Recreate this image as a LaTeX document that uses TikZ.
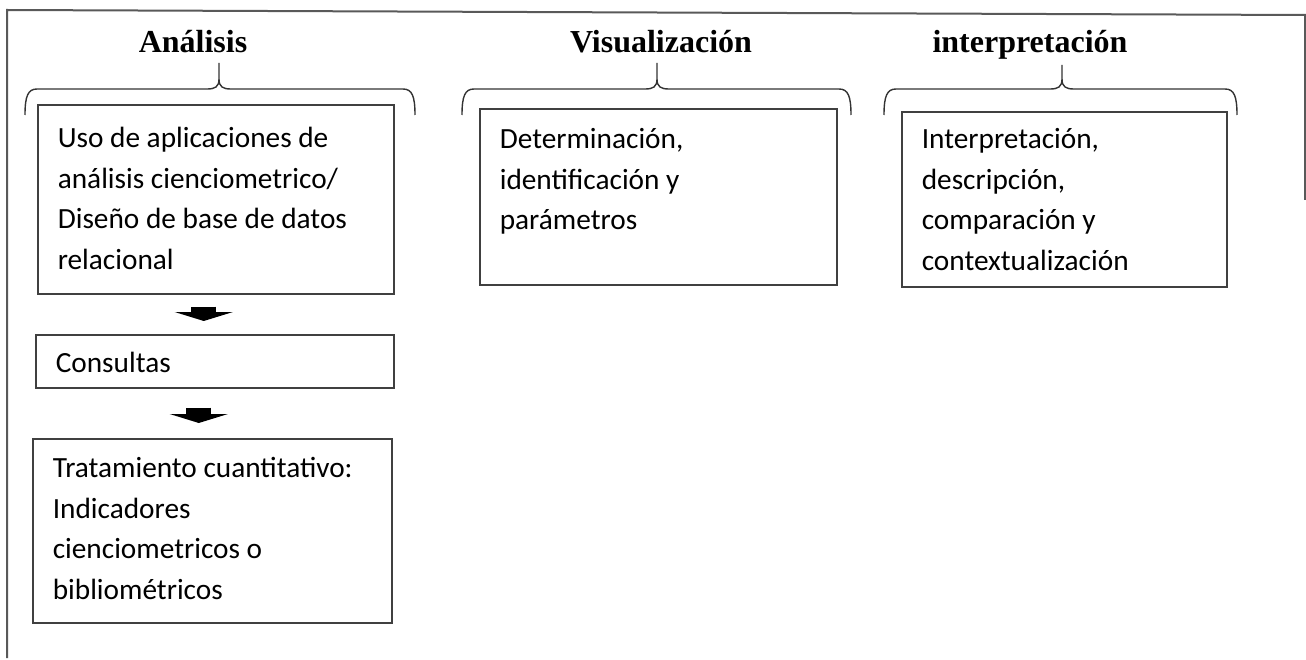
\documentclass[tikz,border=0pt]{standalone}
\usepackage{fontspec}
\setmainfont{Carlito}
\newfontfamily\titulofont{Liberation Serif}
\usetikzlibrary{arrows.meta,calc}

\begin{document}
\begin{tikzpicture}[x=1pt,y=-1pt,
  titulo/.style={anchor=base,font=\titulofont\bfseries\fontsize{32}{38}\selectfont},
  caja/.style={draw=black!75,line width=1.6pt,anchor=north west,align=flush left,inner xsep=20pt,inner ysep=0pt,font=\fontsize{29.3}{40.5}\selectfont},
  llave/.style={draw=black!80,line width=1.4pt},
  marco/.style={draw=black!65,line width=2pt},
  flecha/.style={line width=25pt,-{Triangle[length=9pt,width=58pt]}}]
\useasboundingbox (0,0) rectangle (1306,660);
% marco
\draw[marco] (7,658) -- (7,10) -- (1305,15) -- (1305,200);
% titulos
\node[titulo] (analisis) at (193,53) {Análisis};
\node[titulo] (visual) at (661,53) {Visualización};
\node[titulo] (interp) at (1030,53) {interpretación};
% llaves
\draw[llave] (25,115) .. controls (25,96) and (28,89) .. (37,89) -- (207,89)
  .. controls (215,89) and (219,87) .. (219,79) -- (219,63)
  (219,79) .. controls (219,87) and (223,89) .. (231,89) -- (403,89)
  .. controls (412,89) and (415,96) .. (415,115);
\draw[llave] (462,115) .. controls (462,96) and (465,89) .. (474,89) -- (645,89)
  .. controls (653,89) and (657,87) .. (657,79) -- (657,63)
  (657,79) .. controls (657,87) and (661,89) .. (669,89) -- (839,89)
  .. controls (848,89) and (851,96) .. (851,115);
\draw[llave] (884,115) .. controls (884,96) and (887,89) .. (896,89) -- (1050,89)
  .. controls (1058,89) and (1062,87) .. (1062,79) -- (1062,65)
  (1062,79) .. controls (1062,87) and (1066,89) .. (1074,89) -- (1225,89)
  .. controls (1234,89) and (1237,96) .. (1237,115);
% cajas
\node[caja,text width=316pt,text height=43pt,text depth=146pt] (uso) at (37,104)
  {Uso de aplicaciones de\\ análisis cienciometrico/\\ Diseño de base de datos\\ relacional};
\node[caja,text width=318pt,text height=38pt,text depth=15pt] (consultas) at (35,334)
  {Consultas};
\node[caja,text width=319pt,text height=39pt,text depth=145pt] (tratamiento) at (32,438)
  {Tratamiento cuantitativo:\\ Indicadores\\ cienciometricos o\\ bibliométricos};
\node[caja,text width=317pt,text height=40pt,text depth=136pt] (determinacion) at (479,108)
  {Determinación,\\ identificación y\\ parámetros};
\node[caja,text width=285pt,text height=37pt,text depth=138pt] (interpretacion) at (901,111)
  {Interpretación,\\ descripción,\\ comparación y\\ contextualización};
% flechas
\draw[flecha] ($(uso.south)+(-12,12)$) -- ($(consultas.north)+(-11,-13)$);
\draw[flecha] ($(consultas.south)+(-16,19)$) -- ($(tratamiento.north)+(-13.5,-15)$);
\end{tikzpicture}
\end{document}
